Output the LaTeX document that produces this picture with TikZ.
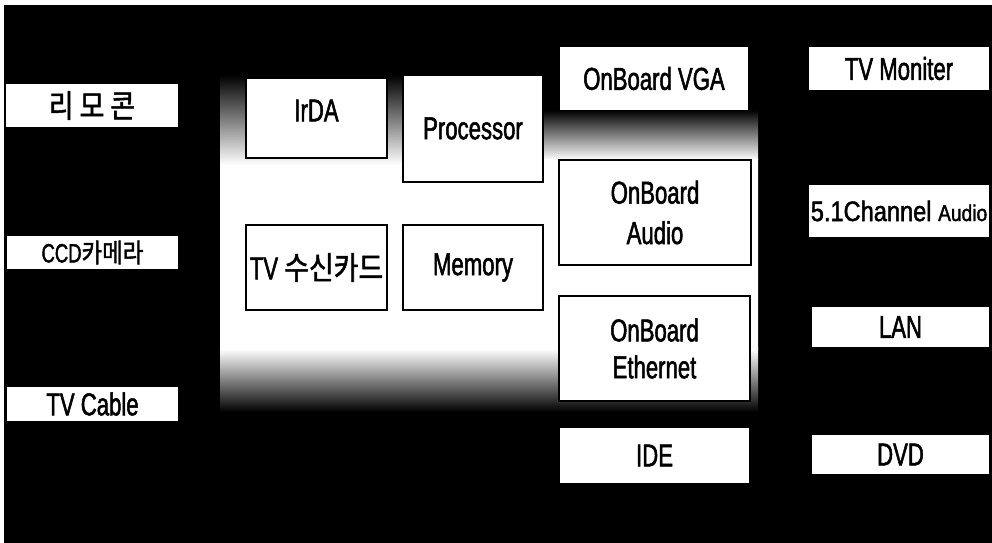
\documentclass[tikz,border=0pt]{standalone}
\usepackage{fontspec}
\setmainfont[FakeStretch=0.7,FakeBold=1.6]{Liberation Sans}
\newfontfamily\chanfont[FakeStretch=0.84,FakeBold=1.6]{Liberation Sans}
\newfontfamily\kor[FakeStretch=0.85,FakeBold=1.6]{Noto Sans CJK KR}

\begin{document}
\begin{tikzpicture}[x=0.02cm,y=-0.02cm,
        outbox/.style={fill=white,inner sep=0pt,font=\fontsize{18}{20}\selectfont},
        inbox/.style={draw=black,line width=0.6pt,fill=white,inner sep=0pt,align=center,font=\fontsize{18}{23}\selectfont}]
        \useasboundingbox (0,0) rectangle (992,543);
        \fill[black] (4,5) rectangle (992,543);
        % board area
        \shade[top color=black,bottom color=white] (220,75) rectangle (543,165);
        \shade[top color=black,bottom color=white] (543,110) rectangle (758,160);
        \fill[white] (220,165) rectangle (758,350) (543,159) rectangle (758,166);
        \shade[top color=white,bottom color=black] (220,349) rectangle (758,412);
        % inputs
        \node[outbox,minimum width=3.44cm,minimum height=0.86cm] (remote) at (92,105.5) {\kor 리 모 콘};
        \node[outbox,minimum width=3.42cm,minimum height=0.66cm] (ccd) at (92.5,252.5) {\fontsize{15}{17}\selectfont CCD{\kor 카메라}};
        \node[outbox,minimum width=3.42cm,minimum height=0.68cm] (cable) at (92.5,404) {TV Cable};
        % board
        \node[inbox,minimum width=2.82cm,minimum height=1.6cm,text depth=0.3cm] (irda) at (316.5,118) {IrDA};
        \node[inbox,minimum width=2.8cm,minimum height=2.14cm] (proc) at (473,128.5) {Processor};
        \node[inbox,minimum width=2.82cm,minimum height=1.7cm] (tvcard) at (316.5,267.5) {TV {\kor 수신카드}};
        \node[inbox,minimum width=2.8cm,minimum height=1.7cm] (mem) at (473,267.5) {Memory};
        \node[outbox,minimum width=3.76cm,minimum height=1.26cm] (vga) at (654,78.5) {OnBoard VGA};
        \node[inbox,minimum width=3.84cm,minimum height=2.1cm] (audio) at (655,212.5) {OnBoard\\Audio};
        \node[inbox,minimum width=3.82cm,minimum height=2.1cm,font=\fontsize{18}{21}\selectfont] (eth) at (654.5,348.5) {OnBoard\\Ethernet};
        \node[outbox,minimum width=3.78cm,minimum height=1.1cm] (ide) at (654.5,455.5) {IDE};
        % outputs
        \node[outbox,minimum width=3.6cm,minimum height=0.86cm] (monitor) at (899,68.5) {TV Moniter};
        \node[outbox,minimum width=3.6cm,minimum height=1.04cm] (surround) at (899,211) {\chanfont\fontsize{16}{18}\selectfont 5.1Channel {\fontsize{13}{15}\selectfont Audio}};
        \node[outbox,minimum width=3.54cm,minimum height=0.8cm] (lan) at (900.5,327) {LAN};
        \node[outbox,minimum width=3.54cm,minimum height=0.78cm] (dvd) at (900.5,454.5) {DVD};
\end{tikzpicture}
\end{document}
